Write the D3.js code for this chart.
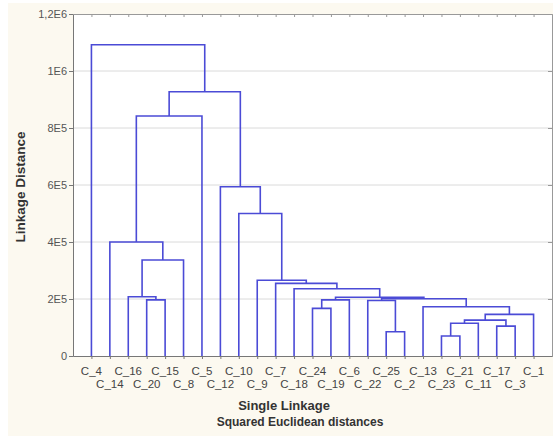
<!DOCTYPE html>
<html>
<head>
<meta charset="utf-8">
<script src="https://cdn.jsdelivr.net/npm/d3@7"></script>
<style>
  body { margin: 0; background: #fff; }
  text { font-family: "Liberation Sans", Arial, sans-serif; }
</style>
</head>
<body>
<svg id="chart"></svg>
<script>
var leaves = ["C_4","C_14","C_16","C_20","C_15","C_8","C_5","C_12","C_10","C_9","C_7","C_18","C_24",
              "C_19","C_6","C_22","C_25","C_2","C_13","C_23","C_21","C_11","C_17","C_3","C_1"];

// [left, right, linkage distance] ; "M<n>" = result of merge n
var merges = [
  ["C_20","C_15",197000],   // M0
  ["C_16","M0",208000],     // M1
  ["M1","C_8",337000],      // M2
  ["C_14","M2",400000],     // M3
  ["M3","C_5",842000],      // M4
  ["C_24","C_19",167000],   // M5
  ["M5","C_6",197000],      // M6
  ["C_25","C_2",85000],     // M7
  ["C_22","M7",195000],     // M8
  ["C_23","C_21",70000],    // M9
  ["M9","C_11",115000],     // M10
  ["C_17","C_3",105000],    // M11
  ["M10","M11",126000],     // M12
  ["M12","C_1",146000],     // M13
  ["C_13","M13",173000],    // M14
  ["M8","M14",201000],      // M15
  ["M6","M15",206000],      // M16
  ["C_18","M16",236000],    // M17
  ["C_7","M17",255000],     // M18
  ["C_9","M18",266000],     // M19
  ["C_10","M19",500000],    // M20
  ["C_12","M20",594000],    // M21
  ["M4","M21",927000],      // M22
  ["C_4","M22",1092000]     // M23
];

var yTicks = [0, 200000, 400000, 600000, 800000, 1000000, 1200000];
var yTickLabels = ["0","2E5","4E5","6E5","8E5","1E6","1,2E6"];
var xTitle1 = "Single Linkage";
var xTitle2 = "Squared Euclidean distances";
var yTitle = "Linkage Distance";

var width = 553, height = 436;
var margin = {left: 73, right: 552, top: 14, bottom: 356};   // plot edges in px

var svg = d3.select("#chart").attr("width", width).attr("height", height);

// cream background + white plot area
svg.append("rect").attr("x",8).attr("y",3).attr("width",width-8).attr("height",height-3).attr("fill","#fcf9f0");
svg.append("rect").attr("x",margin.left).attr("y",margin.top)
  .attr("width",margin.right-margin.left).attr("height",margin.bottom-margin.top).attr("fill","#fff");

var x = d3.scalePoint().domain(leaves).range([margin.left,margin.right]).padding(1);
var y = d3.scaleLinear().domain([0,1200000]).range([margin.bottom,margin.top]);

// grid
svg.append("g").selectAll("line")
    .data(yTicks.slice(1,-1))
  .enter().append("line")
    .attr("x1",margin.left).attr("x2",margin.right)
    .attr("y1",function(d){return y(d);}).attr("y2",function(d){return y(d);})
    .attr("stroke","#dadada").attr("stroke-width",1);

var minorTicks = d3.range(0, 1200001, 40000);

// left axis
var gLeft = svg.append("g").attr("transform","translate("+margin.left+",0)");
gLeft.call(d3.axisLeft(y).tickValues(minorTicks).tickSize(2).tickFormat(""));
gLeft.call(d3.axisLeft(y).tickValues(yTicks).tickSize(4).tickFormat(function(d,i){return yTickLabels[i];}));
gLeft.selectAll("line").attr("stroke","#777");
gLeft.selectAll(".domain").attr("stroke","#777");
gLeft.selectAll("text").attr("fill","#555").style("font-size","11px").attr("x",-6);

// right frame
var gRight = svg.append("g").attr("transform","translate("+margin.right+",0)");
gRight.call(d3.axisRight(y).tickValues(minorTicks).tickSize(-2).tickFormat(""));
gRight.call(d3.axisRight(y).tickValues(yTicks).tickSize(-4).tickFormat(""));
gRight.selectAll("line,.domain").attr("stroke","#999");

// top frame
var gTop = svg.append("g").attr("transform","translate(0,"+margin.top+")");
gTop.call(d3.axisTop(x).tickSize(-3).tickFormat("").tickSizeOuter(0));
gTop.selectAll("line,.domain").attr("stroke","#999");

// bottom axis
var gBottom = svg.append("g").attr("transform","translate(0,"+margin.bottom+")");
gBottom.call(d3.axisBottom(x).tickSize(3).tickFormat("").tickSizeOuter(0));
gBottom.selectAll("line,.domain").attr("stroke","#777");

// leaf labels, alternating rows
svg.append("g").selectAll("text")
    .data(leaves)
  .enter().append("text")
    .attr("x",function(d){return x(d);})
    .attr("y",function(d,i){return i % 2 == 0 ? 375 : 388;})
    .attr("text-anchor","middle")
    .attr("fill","#444")
    .style("font-size","11.5px")
    .text(function(d){return d;});

// dendrogram
var nodes = {};
leaves.forEach(function(l){ nodes[l] = {x: x(l), h: 0}; });
var links = [];
merges.forEach(function(m, i){
  var a = nodes[m[0]], b = nodes[m[1]];
  links.push({a: a, b: b, h: m[2]});
  nodes["M"+i] = {x: (a.x + b.x)/2, h: m[2]};
});

svg.append("g").selectAll("path")
    .data(links)
  .enter().append("path")
    .attr("d", function(d){
      return "M"+d.a.x+","+y(d.a.h)+"V"+y(d.h)+"H"+d.b.x+"V"+y(d.b.h);
    })
    .attr("fill","none")
    .attr("stroke","#4b4bd6")
    .attr("stroke-width",1.6);

// titles
svg.append("text").attr("x",284).attr("y",410).attr("text-anchor","middle")
  .attr("fill","#333").style("font-size","13px").style("font-weight","bold").text(xTitle1);
svg.append("text").attr("x",300).attr("y",426).attr("text-anchor","middle")
  .attr("fill","#333").style("font-size","12px").style("font-weight","bold").text(xTitle2);
svg.append("text").attr("transform","translate(25,187) rotate(-90)").attr("text-anchor","middle")
  .attr("fill","#333").style("font-size","13.5px").style("font-weight","bold").text(yTitle);
</script>
</body>
</html>
